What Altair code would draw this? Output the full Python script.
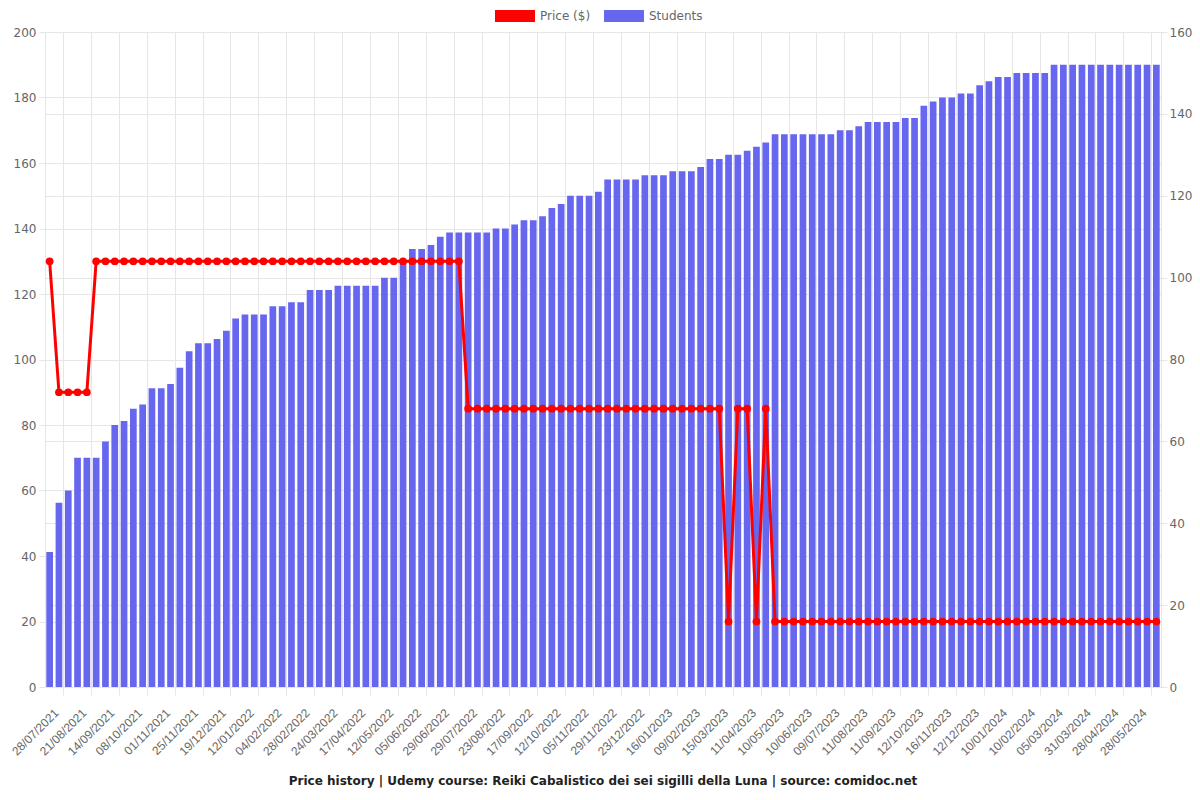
import altair as alt
import pandas as pd

dates = [
    "28/07/2021", "05/08/2021", "13/08/2021", "21/08/2021", "29/08/2021", "06/09/2021",
    "14/09/2021", "22/09/2021", "30/09/2021", "08/10/2021", "16/10/2021", "24/10/2021",
    "01/11/2021", "09/11/2021", "17/11/2021", "25/11/2021", "03/12/2021", "11/12/2021",
    "19/12/2021", "27/12/2021", "04/01/2022", "12/01/2022", "20/01/2022", "28/01/2022",
    "04/02/2022", "12/02/2022", "20/02/2022", "28/02/2022", "08/03/2022", "16/03/2022",
    "24/03/2022", "01/04/2022", "09/04/2022", "17/04/2022", "25/04/2022", "04/05/2022",
    "12/05/2022", "20/05/2022", "28/05/2022", "05/06/2022", "13/06/2022", "21/06/2022",
    "29/06/2022", "09/07/2022", "19/07/2022", "29/07/2022", "06/08/2022", "15/08/2022",
    "23/08/2022", "31/08/2022", "09/09/2022", "17/09/2022", "25/09/2022", "04/10/2022",
    "12/10/2022", "20/10/2022", "28/10/2022", "05/11/2022", "13/11/2022", "21/11/2022",
    "29/11/2022", "07/12/2022", "15/12/2022", "23/12/2022", "31/12/2022", "08/01/2023",
    "16/01/2023", "24/01/2023", "01/02/2023", "09/02/2023", "21/02/2023", "03/03/2023",
    "15/03/2023", "24/03/2023", "02/04/2023", "11/04/2023", "21/04/2023", "30/04/2023",
    "10/05/2023", "20/05/2023", "31/05/2023", "10/06/2023", "20/06/2023", "29/06/2023",
    "09/07/2023", "20/07/2023", "31/07/2023", "11/08/2023", "21/08/2023", "01/09/2023",
    "11/09/2023", "21/09/2023", "02/10/2023", "12/10/2023", "24/10/2023", "05/11/2023",
    "16/11/2023", "24/11/2023", "03/12/2023", "12/12/2023", "22/12/2023", "01/01/2024",
    "10/01/2024", "20/01/2024", "31/01/2024", "10/02/2024", "18/02/2024", "26/02/2024",
    "05/03/2024", "14/03/2024", "22/03/2024", "31/03/2024", "09/04/2024", "19/04/2024",
    "28/04/2024", "08/05/2024", "18/05/2024", "28/05/2024", "06/06/2024", "15/06/2024",
]

students = [
    33, 45, 48, 56, 56, 56, 60, 64, 65, 68,
    69, 73, 73, 74, 78, 82, 84, 84, 85, 87,
    90, 91, 91, 91, 93, 93, 94, 94, 97, 97,
    97, 98, 98, 98, 98, 98, 100, 100, 104, 107,
    107, 108, 110, 111, 111, 111, 111, 111, 112, 112,
    113, 114, 114, 115, 117, 118, 120, 120, 120, 121,
    124, 124, 124, 124, 125, 125, 125, 126, 126, 126,
    127, 129, 129, 130, 130, 131, 132, 133, 135, 135,
    135, 135, 135, 135, 135, 136, 136, 137, 138, 138,
    138, 138, 139, 139, 142, 143, 144, 144, 145, 145,
    147, 148, 149, 149, 150, 150, 150, 150, 152, 152,
    152, 152, 152, 152, 152, 152, 152, 152, 152, 152,
]

price = [
    130, 90, 90, 90, 90, 130, 130, 130, 130, 130,
    130, 130, 130, 130, 130, 130, 130, 130, 130, 130,
    130, 130, 130, 130, 130, 130, 130, 130, 130, 130,
    130, 130, 130, 130, 130, 130, 130, 130, 130, 130,
    130, 130, 130, 130, 130, 85, 85, 85, 85, 85,
    85, 85, 85, 85, 85, 85, 85, 85, 85, 85,
    85, 85, 85, 85, 85, 85, 85, 85, 85, 85,
    85, 85, 85, 20, 85, 85, 20, 85, 20, 20,
    20, 20, 20, 20, 20, 20, 20, 20, 20, 20,
    20, 20, 20, 20, 20, 20, 20, 20, 20, 20,
    20, 20, 20, 20, 20, 20, 20, 20, 20, 20,
    20, 20, 20, 20, 20, 20, 20, 20, 20, 20,
]

price_ticks = [0, 20, 40, 60, 80, 100, 120, 140, 160, 180, 200]
student_ticks = [0, 20, 40, 60, 80, 100, 120, 140, 160]
series_names = ["Price ($)", "Students"]
series_colors = ["#ff0000", "#6666ee"]
title_text = "Price history | Udemy course: Reiki Cabalistico dei sei sigilli della Luna | source: comidoc.net"

FONT = "DejaVu Sans"
XFONT = "Liberation Sans"
GRID = "#e6e6e6"
LABEL = "#666666"

W, H = 1116, 655
PAD_IN = 0.28
step = W / len(dates)

# grid/ticks sit between categories (Chart.js style), labels on every third bar
tick_keys = dates[1::3]
tick_text = dates[0::3]
label_expr = "{}[indexof({}, datum.value)]".format(
    "[" + ",".join("'%s'" % d for d in tick_text) + "]",
    "[" + ",".join("'%s'" % d for d in tick_keys) + "]",
)

df = pd.DataFrame({"date": dates, "students": students, "price": price})

color_scale = alt.Scale(domain=series_names, range=series_colors)
legend = alt.Legend(
    title=None,
    orient="none",
    legendX=450,
    legendY=-36,
    direction="horizontal",
    symbolType="M-1,-0.3H1V0.3H-1Z",
    symbolSize=1600,
    symbolStrokeWidth=0,
    symbolOpacity=1,
    labelFont=FONT,
    labelFontSize=12,
    labelColor=LABEL,
    labelOffset=5,
    columnPadding=13,
    padding=0,
)

x_enc = alt.X(
    "date:N",
    sort=dates,
    scale=alt.Scale(paddingInner=PAD_IN, paddingOuter=PAD_IN / 2),
    axis=alt.Axis(
        title=None,
        values=tick_keys,
        bandPosition=0.5 + 0.5 / (1 - PAD_IN),
        labelOffset=-1.5 * step + 8,
        labelExpr=label_expr,
        labelAngle=-45,
        labelFont=XFONT,
        labelFontSize=12,
        labelColor=LABEL,
        labelPadding=12,
        labelOverlap=False,
        tickSize=8,
        tickColor=GRID,
        grid=True,
        gridColor=GRID,
        domainColor=GRID,
    ),
)

bars = (
    alt.Chart(df)
    .transform_calculate(series="'Students'")
    .mark_bar()
    .encode(
        x=x_enc,
        y=alt.Y(
            "students:Q",
            scale=alt.Scale(domain=[0, 160], nice=False),
            axis=alt.Axis(
                orient="right",
                title=None,
                values=student_ticks,
                labelFont=FONT,
                labelFontSize=12,
                labelColor=LABEL,
                labelPadding=2,
                tickSize=6,
                tickColor=GRID,
                grid=True,
                gridColor=GRID,
                domainColor=GRID,
            ),
        ),
        color=alt.Color("series:N", scale=color_scale, legend=legend),
    )
)

line = (
    alt.Chart(df)
    .transform_calculate(series="'Price ($)'")
    .mark_line(strokeWidth=3, point=alt.OverlayMarkDef(filled=True, size=60, opacity=1))
    .encode(
        x=x_enc,
        y=alt.Y(
            "price:Q",
            scale=alt.Scale(domain=[0, 200], nice=False),
            axis=alt.Axis(
                orient="left",
                title=None,
                values=price_ticks,
                labelFont=FONT,
                labelFontSize=12,
                labelColor=LABEL,
                labelPadding=3,
                tickSize=6,
                tickColor=GRID,
                grid=True,
                gridColor=GRID,
                domainColor=GRID,
            ),
        ),
        color=alt.Color("series:N", scale=color_scale, legend=legend),
    )
)

chart = (
    alt.layer(bars, line)
    .resolve_scale(y="independent")
    .properties(
        width=W,
        height=H,
        autosize=alt.AutoSizeParams(type="none"),
        padding={"left": 37, "top": 24, "right": 31, "bottom": 105},
        title=alt.TitleParams(
            text=title_text,
            orient="bottom",
            anchor="middle",
            font=FONT,
            fontSize=12,
            fontWeight="bold",
            color="#222222",
            offset=19,
        ),
    )
    .configure_view(stroke=None)
)

chart.save("out.html", embed_options={"renderer": "svg", "actions": False})
